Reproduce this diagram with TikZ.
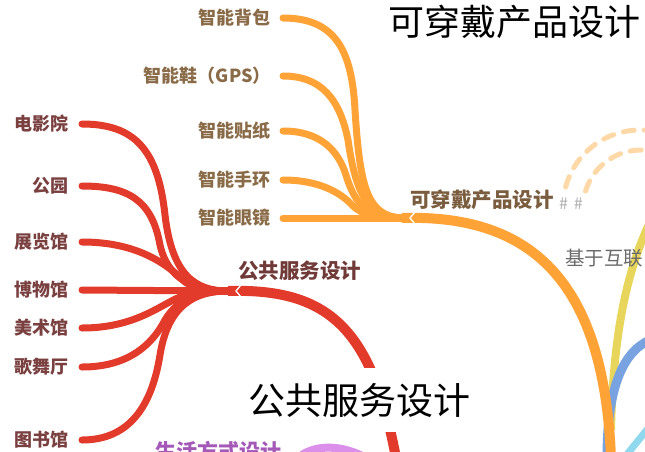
\documentclass[tikz,border=0pt]{standalone}
\usepackage{fontspec}
\setmainfont{Noto Sans CJK SC}
\usetikzlibrary{calc}
\definecolor{orangeline}{HTML}{FFA337}
\definecolor{redline}{HTML}{E23B2B}
\definecolor{paleorange}{HTML}{FFD8A8}
\definecolor{yellowline}{HTML}{E8D65C}
\definecolor{blueline}{HTML}{78A2E0}
\definecolor{cyanline}{HTML}{90D8EE}
\definecolor{purpleline}{HTML}{DB8EEA}
\definecolor{otxt}{HTML}{8A6B48}
\definecolor{rtxt}{HTML}{7A4040}
\definecolor{olabel}{HTML}{7A5D3E}
\definecolor{rlabel}{HTML}{703A38}
\definecolor{gtxt}{HTML}{6A6A6A}
\definecolor{ptxt}{HTML}{A458B8}
\begin{document}
\begin{tikzpicture}[x=1pt,y=-1pt,
  otext/.style={text=otxt, font=\fontsize{18}{18}\selectfont\bfseries, anchor=east, inner sep=0pt},
  rtext/.style={text=rtxt, font=\fontsize{18}{18}\selectfont\bfseries, anchor=east, inner sep=0pt},
  ochild/.style={draw=orangeline, line width=7pt, line cap=round},
  rchild/.style={draw=redline, line width=7pt, line cap=round},
  mainline/.style={line width=10pt, line cap=butt},
  notch/.style={draw=white, line width=1.3pt},
  bigtitle/.style={fill=white, text=black, font=\fontsize{36}{36}\selectfont, inner xsep=6pt, inner ysep=4pt},
  dashring/.style={draw=paleorange, line width=5pt, line cap=round, dash pattern=on 11pt off 10pt}
]
\useasboundingbox (0,0) rectangle (645,451);
\clip (0,0) rectangle (645,451);

% ---------- orange children texts ----------
\node[otext] (beibao) at (271,18) {智能背包};
\node[otext] (xie) at (271,76) {智能鞋（GPS）};
\node[otext] (tiezhi) at (271,131) {智能贴纸};
\node[otext] (shouhuan) at (271,180) {智能手环};
\node[otext] (yanjing) at (271,218) {智能眼镜};

\coordinate (oj) at (402,218);
\coordinate (on) at (410,218);
\coordinate (oa) at ($(beibao.east)+(12,0)$);
\coordinate (ob) at ($(xie.east)+(12,0)$);
\coordinate (oc) at ($(tiezhi.east)+(12,0)$);
\coordinate (od) at ($(shouhuan.east)+(12,0)$);
\coordinate (oe) at ($(yanjing.east)+(12,0)$);

% ---------- other partial branches (right edge) ----------
\coordinate (ys) at (611,430);
\coordinate (ye) at (650,222);
\draw[draw=yellowline, line width=8pt] (ys) .. controls (613,340) and (625,275) .. (ye);
\coordinate (bs) at (607,458);
\coordinate (be) at (650,340);
\draw[draw=blueline, line width=9pt] (bs) .. controls (607,390) and (622,352) .. (be);
\coordinate (cs) at (624,458);
\coordinate (ce) at (650,426);
\draw[draw=cyanline, line width=7pt] (cs) -- (ce);

% orange main line
\coordinate (oroot) at (611,458);
\draw[draw=orangeline, mainline] (oj) .. controls (535,214) and (604,285) .. (oroot);

% orange children connectors
\draw[ochild] (oa) .. controls (335,18) and (352,50) .. (355,110) .. controls (360,190) and (368,216) .. (oj);
\draw[ochild] (ob) .. controls (322,76) and (340,100) .. (348,140) .. controls (356,195) and (368,217) .. (oj);
\draw[ochild] (oc) .. controls (320,131) and (338,150) .. (346,175) .. controls (355,205) and (368,218) .. (oj);
\draw[ochild] (od) .. controls (318,180) and (340,192) .. (352,205) .. controls (362,215) and (375,218) .. (oj);
\draw[ochild] (oe) -- (oj);
\draw[notch] ($(on)+(5,-6)$) -- (on) -- ($(on)+(5,6)$);

\node[text=olabel, font=\fontsize{20.5}{20.5}\selectfont\bfseries, anchor=west, inner sep=0pt] (olab) at (410,200) {可穿戴产品设计};
\node[text=gtxt!55, font=\fontsize{16}{16}\selectfont, anchor=west, inner sep=0pt] (hash) at ($(olab.east)+(5,4)$) {\#\hspace{6pt}\#};

% dashed rings
\draw[dashring] plot[smooth, domain=195:285, samples=40] ({640+77*cos(\x)},{207+77*sin(\x)});
\draw[dashring] plot[smooth, domain=197:285, samples=40] ({641+58*cos(\x)},{208+58*sin(\x)});

\node[text=gtxt, font=\fontsize{19.5}{19.5}\selectfont, anchor=west, inner sep=0pt] (hulian) at (565,258) {基于互联};

% ---------- red children ----------
\node[rtext] (dianying) at (69,124) {电影院};
\node[rtext] (gongyuan) at (69,186) {公园};
\node[rtext] (zhanlan) at (69,242) {展览馆};
\node[rtext] (bowu) at (69,290) {博物馆};
\node[rtext] (meishu) at (69,328) {美术馆};
\node[rtext] (gewu) at (69,367) {歌舞厅};
\node[rtext] (tushu) at (69,440) {图书馆};

\coordinate (rj) at (228,291);
\coordinate (rn) at (236,291);
\coordinate (ra) at ($(dianying.east)+(13,0)$);
\coordinate (rb) at ($(gongyuan.east)+(13,0)$);
\coordinate (rc) at ($(zhanlan.east)+(13,0)$);
\coordinate (rd) at ($(bowu.east)+(13,0)$);
\coordinate (re) at ($(meishu.east)+(13,0)$);
\coordinate (rf) at ($(gewu.east)+(13,0)$);
\coordinate (rg) at ($(tushu.east)+(13,0)$);

\coordinate (rroot) at (396,458);
\draw[draw=redline, mainline] (rj) .. controls (330,288) and (372,330) .. (rroot);

\draw[rchild] (ra) .. controls (135,124) and (158,150) .. (165,215) .. controls (172,275) and (195,291) .. (rj);
\draw[rchild] (rb) .. controls (128,186) and (152,200) .. (160,245) .. controls (168,280) and (195,291) .. (rj);
\draw[rchild] (rc) .. controls (135,242) and (165,262) .. (185,282) .. controls (195,289) and (210,291) .. (rj);
\draw[rchild] (rd) -- (rj);
\draw[rchild] (re) .. controls (135,328) and (160,305) .. (180,297) .. controls (195,292) and (210,291) .. (rj);
\draw[rchild] (rf) .. controls (128,367) and (152,345) .. (165,320) .. controls (178,298) and (200,291) .. (rj);
\draw[rchild] (rg) .. controls (130,440) and (152,405) .. (160,355) .. controls (168,305) and (195,291) .. (rj);
\draw[notch] ($(rn)+(5,-6)$) -- (rn) -- ($(rn)+(5,6)$);

\node[text=rlabel, font=\fontsize{20.5}{20.5}\selectfont\bfseries, anchor=west, inner sep=0pt] (rlab) at (238,271) {公共服务设计};

% ---------- purple branch (partial) ----------
\node[text=ptxt, font=\fontsize{21}{21}\selectfont\bfseries, anchor=west, inner sep=0pt] (plab) at (155,451) {生活方式设计};
\coordinate (ps) at (298,458);
\coordinate (pe) at (368,459);
\draw[draw=purpleline, line width=8pt] (ps) .. controls (314,444) and (342,444) .. (pe);

% ---------- big titles ----------
\node[bigtitle, anchor=west] (t1) at (382,22) {可穿戴产品设计};
\node[bigtitle, anchor=center, minimum height=64pt, font=\fontsize{37}{37}\selectfont] (t2) at (359,400) {公共服务设计};
\end{tikzpicture}
\end{document}
